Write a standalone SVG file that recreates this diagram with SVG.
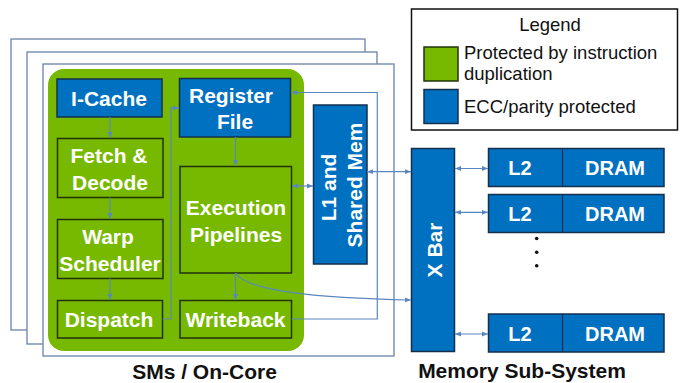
<svg xmlns="http://www.w3.org/2000/svg" width="681" height="383" viewBox="0 0 681 383">
  <style>
    .frame { fill: #ffffff; stroke: #6b82aa; stroke-width: 1.3; }
    .green { fill: #76b900; stroke: #22330a; stroke-width: 1.5; }
    .blue { fill: #0070c0; stroke: #14304d; stroke-width: 1.5; }
    .lbl { font-family: "Liberation Sans", Arial, sans-serif; font-weight: bold; font-size: 21px; fill: #ffffff; text-anchor: middle; }
    .mem { font-size: 20px; }
    .caption { font-family: "Liberation Sans", Arial, sans-serif; font-weight: bold; font-size: 21px; fill: #111111; text-anchor: middle; }
    .legend { font-family: "Liberation Sans", Arial, sans-serif; font-size: 18.5px; fill: #111111; }
    .wire { fill: none; stroke: #5a86c2; stroke-width: 1.2; }
  </style>
  <defs>
    <marker id="arr" viewBox="0 0 10 10" refX="10" refY="5" markerWidth="5" markerHeight="5" orient="auto-start-reverse">
      <path d="M0,1 L10,5 L0,9 z" fill="#5a86c2"/>
    </marker>
  </defs>

  <rect width="681" height="383" fill="#ffffff"/>

  <!-- stacked SM frames -->
  <g id="sm-frames">
    <rect class="frame" x="11" y="39" width="354" height="291"/>
    <rect class="frame" x="27" y="52" width="350" height="292"/>
    <rect class="frame" x="43" y="64" width="351" height="292"/>
  </g>

  <!-- SM core area -->
  <g id="sm-core">
    <rect x="48" y="69" width="256" height="282" rx="16" fill="#76b900"/>
  </g>

  <g id="icache">
    <rect class="blue" x="57" y="79" width="105" height="38"/>
    <text class="lbl" x="109" y="106">I-Cache</text>
  </g>
  <g id="fetch-decode">
    <rect class="green" x="57.5" y="138.5" width="105.5" height="59"/>
    <text class="lbl" x="109" y="163">Fetch &amp;</text>
    <text class="lbl" x="110" y="189.5">Decode</text>
  </g>
  <g id="warp-scheduler">
    <rect class="green" x="57.5" y="219.5" width="105.5" height="59"/>
    <text class="lbl" x="108" y="244">Warp</text>
    <text class="lbl" x="110" y="270.5">Scheduler</text>
  </g>
  <g id="dispatch">
    <rect class="green" x="57.5" y="300.5" width="105" height="37.5"/>
    <text class="lbl" x="109" y="327">Dispatch</text>
  </g>
  <g id="register-file">
    <rect class="blue" x="179.5" y="78.5" width="111" height="58.5"/>
    <text class="lbl" x="231" y="102.5">Register</text>
    <text class="lbl" x="235" y="128.5">File</text>
  </g>
  <g id="execution-pipelines">
    <rect class="green" x="180" y="166.5" width="111.5" height="106.5"/>
    <text class="lbl" x="236" y="215">Execution</text>
    <text class="lbl" x="236" y="241.5">Pipelines</text>
  </g>
  <g id="writeback">
    <rect class="green" x="180" y="300.5" width="111.5" height="37.5"/>
    <text class="lbl" x="235.5" y="327">Writeback</text>
  </g>
  <g id="l1-shared-mem">
    <rect class="blue" x="313.5" y="105" width="53.5" height="159"/>
    <text class="lbl" transform="translate(336,187.5) rotate(-90)">L1 and</text>
    <text class="lbl" transform="translate(361.5,185) rotate(-90)">Shared Mem</text>
  </g>
  <g id="xbar">
    <rect class="blue" x="411.5" y="148.5" width="43" height="203"/>
    <text class="lbl" transform="translate(441.5,250) rotate(-90)">X Bar</text>
  </g>

  <g id="mem-channel-1">
    <rect class="blue" x="488.5" y="148.5" width="175.5" height="38"/>
    <line x1="562.5" y1="148.5" x2="562.5" y2="186.5" stroke="#14304d" stroke-width="1.2"/>
    <text class="lbl mem" x="520" y="175">L2</text>
    <text class="lbl mem" x="615" y="175">DRAM</text>
  </g>
  <g id="mem-channel-2">
    <rect class="blue" x="488.5" y="194.5" width="175.5" height="38"/>
    <line x1="562.5" y1="194.5" x2="562.5" y2="232.5" stroke="#14304d" stroke-width="1.2"/>
    <text class="lbl mem" x="520" y="221">L2</text>
    <text class="lbl mem" x="615" y="221">DRAM</text>
  </g>
  <g id="mem-ellipsis" fill="#111111">
    <circle cx="536.7" cy="238.5" r="1.8"/>
    <circle cx="536.7" cy="252.3" r="1.8"/>
    <circle cx="536.7" cy="265.7" r="1.8"/>
  </g>
  <g id="mem-channel-n">
    <rect class="blue" x="488.5" y="314" width="175.5" height="38"/>
    <line x1="562.5" y1="314" x2="562.5" y2="352" stroke="#14304d" stroke-width="1.2"/>
    <text class="lbl mem" x="520" y="340.5">L2</text>
    <text class="lbl mem" x="615" y="340.5">DRAM</text>
  </g>

  <!-- connectors -->
  <g id="connectors" class="wire">
    <line x1="110" y1="117" x2="110" y2="138" marker-end="url(#arr)"/>
    <line x1="110" y1="197.5" x2="110" y2="219" marker-end="url(#arr)"/>
    <line x1="110" y1="278.5" x2="110" y2="300" marker-end="url(#arr)"/>
    <polyline points="162.5,319 171,319 171,108 179,108" marker-end="url(#arr)"/>
    <line x1="235.5" y1="137" x2="235.5" y2="166" marker-end="url(#arr)"/>
    <line x1="235.5" y1="273" x2="235.5" y2="300" marker-end="url(#arr)"/>
    <path d="M235.5,273 C248,292 320,298 411,300" marker-end="url(#arr)"/>
    <polyline points="291.5,319 377.3,319 377.3,92.5 291,92.5" marker-end="url(#arr)"/>
    <line x1="292" y1="186" x2="313" y2="186" marker-start="url(#arr)" marker-end="url(#arr)"/>
    <line x1="367" y1="171.7" x2="411" y2="171.7" marker-start="url(#arr)" marker-end="url(#arr)"/>
    <line x1="455" y1="168.5" x2="488" y2="168.5" marker-start="url(#arr)" marker-end="url(#arr)"/>
    <line x1="455" y1="212.3" x2="488" y2="212.3" marker-start="url(#arr)" marker-end="url(#arr)"/>
    <line x1="455" y1="334" x2="488" y2="334" marker-start="url(#arr)" marker-end="url(#arr)"/>
  </g>

  <!-- captions -->
  <text class="caption" x="204.5" y="379">SMs / On-Core</text>
  <text class="caption" x="522" y="377.5" font-size="22">Memory Sub-System</text>

  <!-- legend -->
  <g id="legend">
    <rect x="411.5" y="9" width="266" height="121" fill="#ffffff" stroke="#111111" stroke-width="1.5"/>
    <text class="legend" x="550" y="31" text-anchor="middle" font-size="17">Legend</text>
    <rect class="green" x="424" y="47" width="34" height="34"/>
    <text class="legend" x="464" y="58.5">Protected by instruction</text>
    <text class="legend" x="464" y="80">duplication</text>
    <rect class="blue" x="424" y="89.5" width="34" height="34"/>
    <text class="legend" x="464" y="113">ECC/parity protected</text>
  </g>
</svg>
